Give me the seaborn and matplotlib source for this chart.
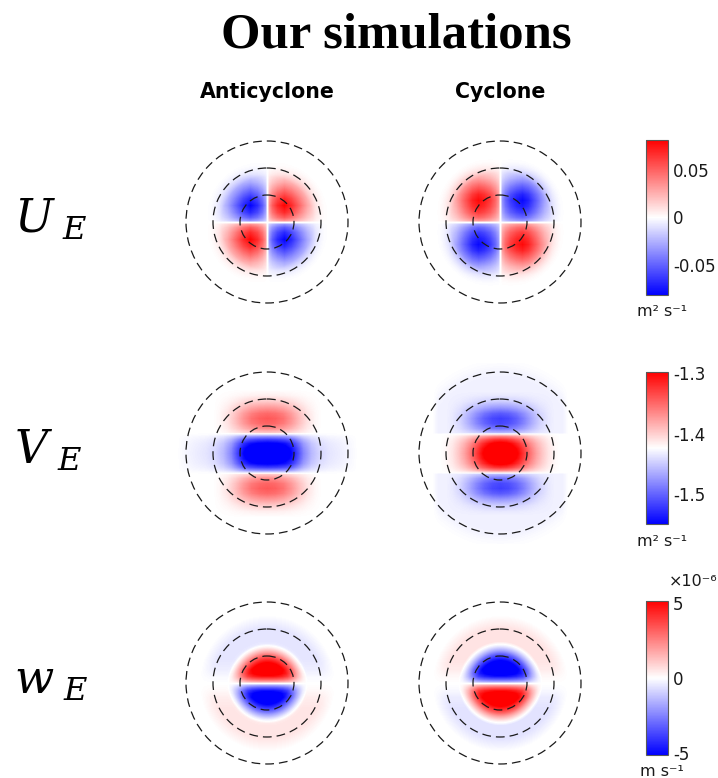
import numpy as np
import matplotlib
matplotlib.use("Agg")
import matplotlib.pyplot as plt
import seaborn as sns
from matplotlib.colors import LinearSegmentedColormap
from matplotlib.patches import Circle

sns.set_theme(style="white")
plt.rcParams["font.family"] = ["DejaVu Sans"]
plt.rcParams["mathtext.fontset"] = "dejavuserif"
plt.rcParams["axes.unicode_minus"] = False
plt.rcParams["text.color"] = "black"

# ---------------- text ----------------
TITLE = "Our simulations"
COLUMNS = ["Anticyclone", "Cyclone"]
ROW_LABELS = [r"$U_{\ E}$", r"$V_{\ E}$", r"$w_{\ E}$"]
UNITS = ["m² s⁻¹", "m² s⁻¹", "m s⁻¹"]
OFFSET_LABEL = "×10⁻⁶"

# ---------------- colour scales ----------------
CB_LIMITS = [(-0.081, 0.081), (-1.550, -1.298), (-5.1e-6, 5.1e-6)]
CB_TICKS = [[-0.05, 0.0, 0.05], [-1.5, -1.4, -1.3], [-5e-6, 0.0, 5e-6]]
CB_TICKLABELS = [["-0.05", "0", "0.05"], ["-1.5", "-1.4", "-1.3"], ["-5", "0", "5"]]

# dashed reference circles (radius in pixels of the panel grid)
CIRCLE_RADII = [27, 54, 81]

# ---------------- field data (profiles) ----------------
# distances in px from the eddy centre; each profile = (positions, values)

# U_E : four-lobe pattern
UA_AMP = 0.08
UA_P = ([0, 2, 5, 10, 17, 24, 32, 40, 48, 56, 64],
        [0.0, 0.45, 0.65, 0.85, 1.0, 0.85, 0.6, 0.35, 0.15, 0.04, 0.0])
UA_ENV = ([0, 46, 56, 64], [1.0, 1.0, 0.5, 0.0])
UC_AMP = -0.078
UC_P = ([0, 2, 5, 10, 16, 22, 28, 36, 44, 52, 60, 66],
        [0.0, 0.45, 0.62, 0.8, 0.93, 1.0, 0.9, 0.65, 0.38, 0.16, 0.04, 0.0])
UC_ENV = ([0, 50, 60, 68], [1.0, 1.0, 0.5, 0.0])

# V_E : central band + two lobes
V_BASE = -1.424
VA_CORE_AMP = -0.16
VA_CORE_X = ([0, 10, 18, 24, 30, 36, 44, 52, 62, 74, 84, 90],
             [1.0, 0.97, 0.9, 0.78, 0.58, 0.38, 0.22, 0.13, 0.08, 0.05, 0.02, 0.0])
VA_CORE_Y = ([0, 5, 10, 14, 17, 19, 21], [1.0, 0.95, 0.82, 0.6, 0.35, 0.1, 0.0])
VA_LOBE_AMP = 0.082
VA_LOBE_X = ([0, 8, 16, 24, 32, 40, 48, 54], [1.0, 0.96, 0.85, 0.65, 0.4, 0.18, 0.05, 0.0])
VA_LOBE_Y = ([19, 21, 25, 30, 35, 40, 46, 52, 58, 64],
             [0.0, 0.35, 0.7, 0.93, 1.0, 0.9, 0.62, 0.32, 0.1, 0.0])

VC_CORE_AMP = 0.165
VC_CORE_X = ([0, 6, 12, 18, 24, 30, 36, 42, 48, 55, 60],
             [1.0, 0.97, 0.88, 0.75, 0.58, 0.42, 0.28, 0.17, 0.08, 0.02, 0.0])
VC_CORE_Y = ([0, 5, 10, 14, 17, 19, 21], [1.0, 0.95, 0.82, 0.62, 0.38, 0.1, 0.0])
VC_LOBE_AMP = -0.088
VC_LOBE_X = ([0, 8, 16, 24, 32, 40, 48, 54], [1.0, 0.95, 0.82, 0.62, 0.38, 0.17, 0.05, 0.0])
VC_LOBE_Y = ([19, 21, 25, 30, 35, 40, 46, 52, 58, 62],
             [0.0, 0.35, 0.72, 0.95, 1.0, 0.85, 0.5, 0.2, 0.05, 0.0])
VC_HALO_AMP = -0.007
VC_HALO_X = ([0, 62, 68], [1.0, 1.0, 0.0])
VC_HALO_Y = ([0, 19, 21, 90], [0.0, 0.0, 1.0, 1.0])
VC_HALO_R = ([0, 75, 82, 88, 95], [1.0, 1.0, 0.8, 0.3, 0.0])

# w_E : two inner half-discs + faint outer crescents (units of 1e-6 m/s)
W_SCALE = 1e-6
W_GAP = ([0, 2, 4, 7, 10, 14], [0.0, 0.3, 0.5, 0.75, 0.9, 1.0])
WA_IN_AMP = 6.5
WA_IN_R = ([0, 10, 16, 21, 26, 31, 36, 40], [1.0, 0.97, 0.9, 0.78, 0.55, 0.3, 0.1, 0.0])
WA_OUT_AMP = -0.5
WA_OUT_R = ([0, 30, 36, 42, 56, 62, 68], [0.0, 0.0, 0.6, 1.0, 1.0, 0.5, 0.0])
WA_OUT_Y = ([0, 6, 14, 24], [0.0, 0.2, 0.7, 1.0])

WC_IN_AMP = -6.5
WC_IN_R = ([0, 10, 17, 23, 28, 33, 38, 42], [1.0, 0.97, 0.9, 0.78, 0.55, 0.3, 0.1, 0.0])
WC_OUT_AMP = 0.55
WC_OUT_R = ([0, 30, 36, 42, 56, 62, 68], [0.0, 0.0, 0.6, 1.0, 1.0, 0.5, 0.0])
WC_OUT_Y = ([0, 6, 14, 24], [0.0, 0.2, 0.7, 1.0])

PANELS = [
    [  # U_E
        dict(base=0.0, scale=1.0, comps=[dict(amp=UA_AMP, x=UA_P, y=UA_P, r=UA_ENV, sign="xy")]),
        dict(base=0.0, scale=1.0, comps=[dict(amp=UC_AMP, x=UC_P, y=UC_P, r=UC_ENV, sign="xy")]),
    ],
    [  # V_E
        dict(base=V_BASE, scale=1.0, comps=[
            dict(amp=VA_CORE_AMP, x=VA_CORE_X, y=VA_CORE_Y),
            dict(amp=VA_LOBE_AMP, x=VA_LOBE_X, y=VA_LOBE_Y)]),
        dict(base=V_BASE, scale=1.0, comps=[
            dict(amp=VC_CORE_AMP, x=VC_CORE_X, y=VC_CORE_Y),
            dict(amp=VC_LOBE_AMP, x=VC_LOBE_X, y=VC_LOBE_Y),
            dict(amp=VC_HALO_AMP, x=VC_HALO_X, y=VC_HALO_Y, r=VC_HALO_R)]),
    ],
    [  # w_E
        dict(base=0.0, scale=W_SCALE, comps=[
            dict(amp=WA_IN_AMP, r=WA_IN_R, y=W_GAP, sign="y"),
            dict(amp=WA_OUT_AMP, r=WA_OUT_R, y=WA_OUT_Y, sign="y")]),
        dict(base=0.0, scale=W_SCALE, comps=[
            dict(amp=WC_IN_AMP, r=WC_IN_R, y=W_GAP, sign="y"),
            dict(amp=WC_OUT_AMP, r=WC_OUT_R, y=WC_OUT_Y, sign="y")]),
    ],
]

# ---------------- grid ----------------
XS = np.arange(-90, 91)
YS = np.arange(90, -91, -1)  # top row first
X, Y = np.meshgrid(XS, YS)
R = np.hypot(X, Y)


def prof(spec, d):
    pos, val = spec
    return np.interp(d, pos, val)


def build(panel):
    Z = np.zeros(X.shape)
    for c in panel["comps"]:
        t = np.full(X.shape, float(c["amp"]))
        if "x" in c:
            t *= prof(c["x"], np.abs(X))
        if "y" in c:
            t *= prof(c["y"], np.abs(Y))
        if "r" in c:
            t *= prof(c["r"], R)
        if c.get("sign") == "xy":
            t *= np.sign(X) * np.sign(Y)
        elif c.get("sign") == "y":
            t *= np.sign(Y)
        Z += t
    return panel["base"] + panel["scale"] * Z


CMAP = LinearSegmentedColormap.from_list("bwr_m", ["#0000ff", "#ffffff", "#ff0000"], N=255)

W, H = 718, 778
fig = plt.figure(figsize=(W / 100, H / 100), dpi=100)
fig.patch.set_facecolor("white")

X_C = [267, 500]
Y_C = [222, 453, 683]
CB_BOX = [(140, 295), (372, 524), (601, 755)]
CB_LEFT, CB_W = 646, 21.5
UNIT_Y = [311, 541, 771]

for row in range(3):
    cb_top, cb_bot = CB_BOX[row]
    cax = fig.add_axes([CB_LEFT / W, 1 - cb_bot / H, CB_W / W, (cb_bot - cb_top) / H])
    vmin, vmax = CB_LIMITS[row]
    for col in range(2):
        cx, cy = X_C[col], Y_C[row]
        ax = fig.add_axes([(cx - 90.5) / W, 1 - (cy + 90.5) / H, 181 / W, 181 / H])
        Z = build(PANELS[row][col])
        sns.heatmap(Z, ax=ax, cmap=CMAP, vmin=vmin, vmax=vmax,
                    cbar=(col == 1), cbar_ax=cax if col == 1 else None,
                    xticklabels=False, yticklabels=False)
        for s in ax.spines.values():
            s.set_visible(False)
        for rad in CIRCLE_RADII:
            ax.add_patch(Circle((90.5, 90.5), rad, fill=False, ls=(0, (7, 4)),
                                lw=0.9, ec="0.1"))
        if col == 1:
            cb = ax.collections[0].colorbar
            cb.set_ticks(CB_TICKS[row])
            cb.set_ticklabels(CB_TICKLABELS[row])
            cb.outline.set_linewidth(0.8)
            cb.outline.set_edgecolor("0.35")
            cb.ax.tick_params(direction="in", length=3, width=0.6, color="0.3",
                              labelsize=12, labelcolor="0.1", pad=4, right=True)
    fig.text(662 / W, 1 - UNIT_Y[row] / H, UNITS[row], ha="center", va="center",
             fontsize=11.5, color="0.1")
    fig.text(14 / W, 1 - (233 + 230.5 * row) / H, ROW_LABELS[row], ha="left",
             va="baseline", fontsize=33, color="black")

fig.text(693 / W, 1 - 582 / H, OFFSET_LABEL, ha="center", va="center",
         fontsize=11.5, color="0.1")

fig.text(396 / W, 1 - 48 / H, TITLE, ha="center", va="baseline", color="black",
         fontsize=36.5, fontweight="bold", family="Liberation Serif")
for col in range(2):
    fig.text(X_C[col] / W, 1 - 92 / H, COLUMNS[col], ha="center", va="center",
             fontsize=14.8, fontweight="bold", color="black")

fig.savefig("out.png", dpi=100, facecolor="white")
